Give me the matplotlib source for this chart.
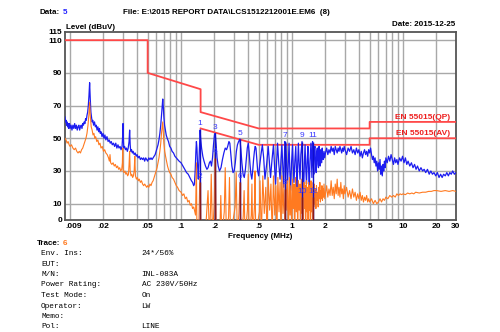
"""Conducted emission scan (EN 55015, line) with QP/AV limits and markers."""
import matplotlib
matplotlib.use("Agg")
import matplotlib.pyplot as plt
import numpy as np
from matplotlib.transforms import offset_copy

# measured traces: (MHz, dBuV)
peak_trace = np.array([
    [0.0090, 63], [0.0091, 60], [0.0092, 61], [0.0093, 58], [0.0094, 60], [0.0095, 57],
    [0.0096, 59], [0.0097, 56], [0.0098, 58], [0.0099, 59], [0.0100, 56], [0.0102, 58],
    [0.0104, 55], [0.0106, 58], [0.0108, 56], [0.0110, 59], [0.0112, 56], [0.0114, 58],
    [0.0116, 55], [0.0118, 57], [0.0120, 58], [0.0122, 55], [0.0124, 57], [0.0126, 58],
    [0.0128, 56], [0.0130, 59], [0.0132, 58], [0.0134, 60], [0.0136, 59], [0.0138, 62],
    [0.0140, 61], [0.0142, 64], [0.0144, 66], [0.0146, 70], [0.0148, 76], [0.0150, 84],
    [0.0152, 74], [0.0154, 66], [0.0156, 63], [0.0158, 60], [0.0160, 61], [0.0163, 58],
    [0.0166, 60], [0.0169, 57], [0.0172, 58], [0.0175, 55], [0.0178, 57], [0.0181, 54],
    [0.0184, 56], [0.0187, 53], [0.0190, 54], [0.0194, 51], [0.0198, 53], [0.0202, 50],
    [0.0206, 52], [0.0210, 49], [0.0215, 51], [0.0220, 48], [0.0225, 49], [0.0230, 47],
    [0.0235, 48], [0.0240, 46], [0.0246, 47], [0.0252, 45], [0.0258, 47], [0.0264, 44],
    [0.0270, 46], [0.0276, 44], [0.0282, 45], [0.0288, 43], [0.0294, 45], [0.0298, 52],
    [0.0300, 59], [0.0302, 50], [0.0305, 44], [0.0310, 45], [0.0316, 43], [0.0322, 44],
    [0.0328, 42], [0.0334, 44], [0.0340, 48], [0.0344, 55], [0.0348, 46], [0.0352, 42],
    [0.0358, 43], [0.0364, 41], [0.0370, 42], [0.0378, 40], [0.0386, 41], [0.0394, 39],
    [0.0402, 40], [0.0410, 38], [0.0420, 39], [0.0430, 37], [0.0440, 38], [0.0450, 37],
    [0.0460, 38], [0.0470, 36], [0.0480, 38], [0.0490, 37], [0.0500, 36], [0.0512, 38],
    [0.0524, 37], [0.0536, 38], [0.0548, 37], [0.0560, 38], [0.0572, 39], [0.0584, 40],
    [0.0596, 42], [0.0608, 44], [0.0620, 46], [0.0632, 49], [0.0644, 53], [0.0656, 58],
    [0.0666, 64], [0.0676, 70], [0.0684, 74], [0.0692, 69], [0.0700, 63], [0.0710, 58],
    [0.0722, 55], [0.0735, 52], [0.0750, 50], [0.0770, 48], [0.0790, 45], [0.0810, 44],
    [0.0830, 42], [0.0855, 41], [0.0880, 39], [0.0905, 38], [0.0930, 37], [0.0960, 36],
    [0.1000, 35], [0.1040, 33], [0.1080, 31], [0.1120, 29], [0.1160, 28], [0.1200, 26],
    [0.1240, 24], [0.1270, 23], [0.1300, 21], [0.1320, 22], [0.1340, 30], [0.1360, 42],
    [0.1375, 48], [0.1390, 44], [0.1410, 33], [0.1430, 25], [0.1450, 36], [0.1470, 48],
    [0.1485, 55], [0.1500, 50], [0.1530, 44], [0.1570, 39], [0.1610, 36], [0.1660, 33],
    [0.1710, 31], [0.1750, 32], [0.1800, 35], [0.1840, 36], [0.1880, 33], [0.1920, 38],
    [0.1960, 46], [0.2000, 52], [0.2030, 53], [0.2070, 46], [0.2110, 38], [0.2160, 33],
    [0.2220, 30], [0.2290, 32], [0.2360, 37], [0.2430, 41], [0.2500, 44], [0.2570, 43],
    [0.2630, 45], [0.2700, 48], [0.2750, 47], [0.2810, 40], [0.2870, 33], [0.2940, 29],
    [0.3010, 30], [0.3080, 35], [0.3150, 42], [0.3220, 46], [0.3300, 48], [0.3390, 49.5],
    [0.3460, 43], [0.3530, 35], [0.3620, 28], [0.3710, 26], [0.3800, 31], [0.3880, 38],
    [0.3950, 44], [0.4030, 47], [0.4100, 42], [0.4180, 34], [0.4260, 28], [0.4340, 25],
    [0.4420, 30], [0.4500, 37], [0.4580, 42], [0.4650, 45], [0.4730, 44], [0.4800, 38],
    [0.4900, 30], [0.5000, 27], [0.5100, 33], [0.5250, 40], [0.5400, 46], [0.5550, 38],
    [0.5700, 25], [0.5900, 34], [0.6100, 45], [0.6250, 35], [0.6400, 26], [0.6600, 37],
    [0.6800, 46], [0.6950, 33], [0.7100, 22], [0.7250, 35], [0.7400, 47], [0.7600, 34],
    [0.7800, 25], [0.7950, 37], [0.8100, 46], [0.8250, 33], [0.8400, 20], [0.8600, 48],
    [0.8800, 47], [0.8950, 32], [0.9100, 23], [0.9250, 36], [0.9400, 47], [0.9550, 30],
    [0.9700, 18], [0.9900, 35], [1.0100, 46], [1.0250, 33], [1.0400, 23], [1.0600, 36],
    [1.0800, 45], [1.0950, 31], [1.1100, 20], [1.1250, 35], [1.1400, 47], [1.1600, 34],
    [1.1800, 25], [1.2000, 40], [1.2300, 48], [1.2500, 30], [1.2700, 16], [1.2900, 34],
    [1.3100, 46], [1.3300, 31], [1.3500, 22], [1.3700, 37], [1.3900, 45], [1.4100, 30],
    [1.4300, 19], [1.4500, 36], [1.4800, 47], [1.5000, 33], [1.5100, 26], [1.5300, 48],
    [1.5500, 36], [1.5700, 28], [1.5900, 44], [1.6100, 45], [1.6300, 33], [1.6500, 29],
    [1.6700, 42], [1.6900, 44], [1.7100, 34], [1.7300, 32], [1.7500, 45], [1.7700, 40],
    [1.7900, 33], [1.8100, 43], [1.8300, 39], [1.8500, 35], [1.8700, 44], [1.8900, 39],
    [1.9100, 37], [1.9400, 42], [1.9700, 38], [2.00, 41], [2.05, 44], [2.10, 40],
    [2.15, 43], [2.20, 41], [2.25, 45], [2.30, 42], [2.35, 44], [2.40, 40], [2.45, 45],
    [2.50, 43], [2.55, 41], [2.60, 44], [2.65, 42], [2.70, 45], [2.75, 43], [2.80, 41],
    [2.85, 44], [2.90, 42], [2.95, 45], [3.00, 43], [3.10, 40], [3.20, 44], [3.30, 42],
    [3.40, 45], [3.50, 41], [3.60, 43], [3.70, 40], [3.80, 44], [3.90, 41], [4.00, 43],
    [4.10, 39], [4.20, 42], [4.30, 38], [4.40, 41], [4.50, 43], [4.60, 40], [4.70, 42],
    [4.80, 39], [4.90, 43], [5.00, 41], [5.10, 44], [5.20, 40], [5.30, 37], [5.40, 39],
    [5.50, 35], [5.60, 38], [5.70, 33], [5.80, 36], [5.90, 30], [6.00, 35], [6.10, 31],
    [6.20, 37], [6.30, 28], [6.40, 33], [6.50, 27], [6.60, 34], [6.70, 30], [6.80, 36],
    [6.90, 32], [7.00, 38], [7.20, 35], [7.40, 39], [7.60, 36], [7.80, 40], [8.00, 37],
    [8.20, 34], [8.40, 38], [8.60, 35], [8.80, 37], [9.00, 34], [9.30, 38], [9.60, 36],
    [9.90, 39], [10.2, 35], [10.5, 38], [10.8, 34], [11.1, 36], [11.5, 33], [11.9, 35],
    [12.3, 32], [12.7, 34], [13.1, 31], [13.5, 33], [14.0, 30], [14.5, 32], [15.0, 30],
    [15.5, 31], [16.0, 29], [16.6, 31], [17.2, 28], [17.8, 30], [18.4, 28], [19.0, 29],
    [19.7, 27], [20.4, 29], [21.1, 26], [21.8, 28], [22.5, 26], [23.2, 28], [24.0, 27],
    [24.8, 29], [25.6, 27], [26.4, 29], [27.2, 28], [28.0, 30], [29.0, 28], [30.0, 29],
])

avg_trace = np.array([
    [0.0090, 50], [0.0092, 49], [0.0094, 47], [0.0096, 48], [0.0098, 46], [0.0100, 45],
    [0.0103, 46], [0.0106, 44], [0.0109, 43], [0.0112, 44], [0.0115, 42], [0.0118, 41],
    [0.0121, 42], [0.0124, 41], [0.0127, 43], [0.0130, 44], [0.0133, 46], [0.0136, 48],
    [0.0139, 50], [0.0142, 53], [0.0145, 58], [0.0148, 65], [0.0150, 72], [0.0152, 64],
    [0.0155, 57], [0.0158, 55], [0.0161, 52], [0.0164, 53], [0.0167, 50], [0.0170, 51],
    [0.0174, 48], [0.0178, 49], [0.0182, 46], [0.0186, 47], [0.0190, 44], [0.0195, 45],
    [0.0200, 42], [0.0205, 43], [0.0210, 41], [0.0216, 40], [0.0222, 38], [0.0226, 36],
    [0.0229, 40], [0.0232, 35], [0.0238, 34], [0.0244, 35], [0.0250, 33], [0.0256, 34],
    [0.0262, 32], [0.0268, 33], [0.0274, 31], [0.0280, 32], [0.0286, 30], [0.0292, 31],
    [0.0296, 35], [0.0298, 44], [0.0301, 30], [0.0306, 29], [0.0312, 30], [0.0318, 28],
    [0.0324, 29], [0.0330, 27], [0.0336, 28], [0.0340, 34], [0.0344, 42], [0.0348, 30],
    [0.0354, 27], [0.0360, 28], [0.0366, 26], [0.0372, 27], [0.0378, 30], [0.0383, 39],
    [0.0388, 27], [0.0396, 25], [0.0404, 26], [0.0412, 24], [0.0420, 25], [0.0430, 23],
    [0.0440, 24], [0.0450, 22], [0.0460, 21], [0.0470, 22], [0.0480, 21], [0.0490, 20],
    [0.0500, 21], [0.0512, 20], [0.0524, 22], [0.0536, 21], [0.0548, 23], [0.0560, 24],
    [0.0572, 26], [0.0584, 28], [0.0596, 30], [0.0608, 32], [0.0620, 35], [0.0632, 38],
    [0.0644, 42], [0.0656, 47], [0.0666, 53], [0.0676, 57], [0.0684, 60], [0.0692, 54],
    [0.0700, 47], [0.0712, 42], [0.0725, 39], [0.0740, 36], [0.0755, 33], [0.0770, 31],
    [0.0790, 29], [0.0810, 28], [0.0830, 26], [0.0855, 25], [0.0880, 23], [0.0905, 21],
    [0.0930, 20], [0.0960, 18], [0.1000, 17], [0.1030, 15], [0.1060, 16], [0.1090, 13],
    [0.1120, 14], [0.1150, 11], [0.1180, 12], [0.1210, 9], [0.1240, 10], [0.1270, 7],
    [0.1300, 8], [0.1330, 5], [0.1350, 3], [0.1365, 22], [0.1375, 35], [0.1390, -10],
    [0.1440, -10], [0.1470, 20], [0.1490, 28], [0.1510, -10], [0.1650, -10], [0.1750, 18],
    [0.1800, -10], [0.1840, 5], [0.1870, 28], [0.1920, -10], [0.1990, 10], [0.2030, 40],
    [0.2080, -10], [0.2230, -10], [0.2280, 15], [0.2330, -10], [0.2450, 5], [0.2500, 32],
    [0.2560, -10], [0.2680, 2], [0.2730, 26], [0.2790, -10], [0.3070, 8], [0.3140, 29],
    [0.3210, -10], [0.3320, 4], [0.3390, 23], [0.3460, -10], [0.3630, 2], [0.3700, 18],
    [0.3770, -10], [0.3960, 6], [0.4030, 28], [0.4100, -10], [0.4290, 3], [0.4350, 22],
    [0.4420, -10], [0.4580, 8], [0.4640, 30], [0.4710, -10], [0.5070, 5], [0.5140, 24],
    [0.5290, -10], [0.5450, 27], [0.5620, 4], [0.5800, 20], [0.5950, -10], [0.6100, 26],
    [0.6280, 6], [0.6450, 22], [0.6620, -10], [0.6800, 27], [0.6980, 3], [0.7150, 21],
    [0.7300, -10], [0.7450, 26], [0.7630, 5], [0.7800, 23], [0.7950, -10], [0.8100, 27],
    [0.8280, 4], [0.8450, 22], [0.8620, -10], [0.8800, 25], [0.8950, 6], [0.9100, 24],
    [0.9280, -10], [0.9450, 26], [0.9600, 3], [0.9750, 21], [0.9920, -10], [1.0100, 25],
    [1.0250, 7], [1.0400, 22], [1.0580, -10], [1.0750, 26], [1.0930, 5], [1.1100, 20],
    [1.1250, -10], [1.1400, 24], [1.1580, 6], [1.1750, 22], [1.1920, -10], [1.2100, 25],
    [1.2280, 4], [1.2450, 20], [1.2620, -10], [1.2800, 23], [1.2950, 7], [1.3100, 21],
    [1.3280, -10], [1.3450, 24], [1.3620, 5], [1.3800, 20], [1.3950, -10], [1.4100, 23],
    [1.4280, 6], [1.4450, 21], [1.4620, -10], [1.4800, 24], [1.4980, 5], [1.5150, 20],
    [1.5320, -10], [1.5500, 23], [1.5680, 8], [1.5850, 22], [1.6000, 10], [1.6200, 19],
    [1.6400, 7], [1.6600, 21], [1.6800, 12], [1.7000, 17], [1.7200, 8], [1.7400, 20],
    [1.7600, 13], [1.7800, 23], [1.8000, 11], [1.8200, 18], [1.8400, 13], [1.8600, 21],
    [1.8800, 12], [1.9000, 19], [1.9200, 14], [1.9400, 22], [1.9700, 13], [2.00, 16],
    [2.05, 21], [2.10, 14], [2.15, 19], [2.20, 15], [2.25, 24], [2.30, 15], [2.35, 20],
    [2.40, 13], [2.45, 22], [2.50, 16], [2.55, 25], [2.60, 15], [2.65, 20], [2.70, 14],
    [2.75, 23], [2.80, 16], [2.85, 19], [2.90, 13], [2.95, 21], [3.00, 16], [3.10, 20],
    [3.20, 14], [3.30, 18], [3.40, 13], [3.50, 19], [3.60, 14], [3.70, 17], [3.80, 12],
    [3.90, 16], [4.00, 13], [4.10, 17], [4.20, 12], [4.30, 15], [4.40, 11], [4.50, 14],
    [4.60, 12], [4.70, 15], [4.80, 11], [4.90, 13], [5.00, 11], [5.20, 13], [5.40, 10],
    [5.60, 12], [5.80, 10], [6.00, 11], [6.20, 13], [6.40, 11], [6.60, 13], [6.80, 12],
    [7.00, 14], [7.30, 13], [7.60, 15], [7.90, 14], [8.20, 15], [8.50, 14], [8.80, 16],
    [9.10, 15], [9.40, 16], [9.70, 15.5], [10.0, 16], [10.5, 15.5], [11.0, 16.5],
    [11.5, 16], [12.0, 16.5], [12.5, 16], [13.0, 17], [14.0, 16.5], [15.0, 17],
    [16.0, 17], [17.0, 17.5], [18.0, 17.5], [19.0, 18], [20.0, 18], [22.0, 17.5],
    [24.0, 18], [26.0, 17.5], [28.0, 18], [30.0, 17.5],
])

# EN 55015 limit lines
qp_limit_f = [0.009, 0.05, 0.05, 0.15, 0.15, 0.5, 5, 5, 30]
qp_limit_db = [110, 110, 90, 80, 66, 56, 56, 60, 60]
av_limit_f = [0.15, 0.5, 5, 5, 30]
av_limit_db = [56, 46, 46, 50, 50]

# markers: odd numbers on the QP scan, even numbers on the AV scan
marker_freq = [0.148, 0.203, 0.339, 0.86, 1.23, 1.53]
qp_marker_db = [55.5, 53, 49.5, 48, 48, 48]
av_marker_db = [23, 38, 23, 19, 14, 14]

x_ticks = [0.009, 0.02, 0.05, 0.1, 0.2, 0.5, 1, 2, 5, 10, 20, 30]
x_tick_labels = [".009", ".02", ".05", ".1", ".2", ".5", "1", "2", "5", "10", "20", "30"]
y_ticks = [0, 10, 30, 50, 70, 90, 110, 115]

info_rows = [
    ("Env. Ins:", "24*/56%"),
    ("EUT:", ""),
    ("M/N:", "INL-083A"),
    ("Power Rating:", "AC 230V/50Hz"),
    ("Test Mode:", "On"),
    ("Operator:", "LW"),
    ("Memo:", ""),
    ("Pol:", "LINE"),
]

plt.rcParams["font.family"] = ["Liberation Sans", "DejaVu Sans"]

W, H = 500, 332
fig = plt.figure(figsize=(W / 100, H / 100), dpi=100)
ax = fig.add_axes([65 / W, 1 - 220 / H, (456 - 65) / W, (220 - 32) / H])

RED = "#ff4848"
BLUE = "#1c1cf0"
ORANGE = "#ff7a20"

ax.set_xscale("log")
ax.set_xlim(0.009, 30)
ax.set_ylim(0, 115)

# grid: every 1..9 step of each decade, selected level lines
grid_f = [m * 10.0 ** e for e in range(-2, 2) for m in range(1, 10)]
grid_f = [f for f in grid_f if 0.009 < f < 30]
for f in grid_f:
    ax.axvline(f, color="#a8a8a8", lw=1.0, zorder=1)
for lv in [10, 30, 50, 70, 90, 110]:
    ax.axhline(lv, color="#a8a8a8", lw=1.0, zorder=1)

ax.plot(qp_limit_f, qp_limit_db, color=RED, lw=1.3, zorder=3)
ax.plot(av_limit_f, av_limit_db, color=RED, lw=1.3, zorder=3)

ax.plot(peak_trace[:, 0], peak_trace[:, 1], color=BLUE, lw=0.9, zorder=4)
ax.plot(avg_trace[:, 0], avg_trace[:, 1], color=ORANGE, lw=0.8, zorder=5)

for i, f in enumerate(marker_freq):
    ax.vlines(f, 0, qp_marker_db[i], color="#1010c8", lw=1.0, zorder=6)
    ax.vlines(f, 0, av_marker_db[i], color="#8a1a1a", lw=1.0, zorder=7)
    ax.text(f, qp_marker_db[i] + 1.5, str(2 * i + 1), color="#3a3aff",
            fontsize=6, ha="center", va="bottom", zorder=8)
    ax.text(f, av_marker_db[i] + 1.5, str(2 * i + 2), color="#3a3aff",
            fontsize=6, ha="center", va="bottom", zorder=8)

ax.text(0.985, 60.6, "EN 55015(QP)", transform=ax.get_yaxis_transform(),
        color="#ee2020", fontsize=6, fontweight="bold", ha="right", va="bottom", zorder=8)
ax.text(0.985, 50.6, "EN 55015(AV)", transform=ax.get_yaxis_transform(),
        color="#ee2020", fontsize=6, fontweight="bold", ha="right", va="bottom", zorder=8)

ax.set_xticks(x_ticks)
ax.set_xticklabels(x_tick_labels)
ax.minorticks_off()
ax.set_yticks(y_ticks)
ax.tick_params(length=0, labelsize=6, pad=2)
for lab in ax.get_xticklabels() + ax.get_yticklabels():
    lab.set_fontweight("bold")
ax.get_xticklabels()[0].set_horizontalalignment("left")

for sp in ax.spines.values():
    sp.set_color("#555555")
    sp.set_linewidth(1.3)


def px(x, y):
    return x / W, 1 - y / H


hdr = dict(fontsize=5.8, fontweight="bold", va="center")
data_lbl = fig.text(*px(40, 12), "Data:", **hdr)
fig.text(*px(123, 12), "File: E:\\2015 REPORT DATA\\LCS1512212001E.EM6  (8)", **hdr)
fig.text(*px(455, 25), "Date: 2015-12-25", ha="right", **hdr)
fig.text(*px(66, 27.5), "Level (dBuV)", **hdr)
fig.text(*px(260.5, 236), "Frequency (MHz)", ha="center", **hdr)
trace_lbl = fig.text(*px(37, 243.5), "Trace:", **hdr)

# coloured values right after their captions
renderer = fig.canvas.get_renderer()
for lbl, val, col in [(data_lbl, "5", "#2020ff"), (trace_lbl, "6", ORANGE)]:
    bb = lbl.get_window_extent(renderer)
    x0, y0 = lbl.get_position()
    fig.text(bb.x1 / fig.bbox.width, y0, val, color=col,
             transform=offset_copy(fig.transFigure, fig=fig, x=2.5, units="dots"), **hdr)

mono = dict(fontsize=5.6, family="Liberation Mono", va="center")
for k, (label, value) in enumerate(info_rows):
    y = 253.5 + 10.5 * k
    fig.text(*px(41, y), label, **mono)
    fig.text(*px(141.5, y), value, **mono)

fig.savefig("out.png", dpi=100)
